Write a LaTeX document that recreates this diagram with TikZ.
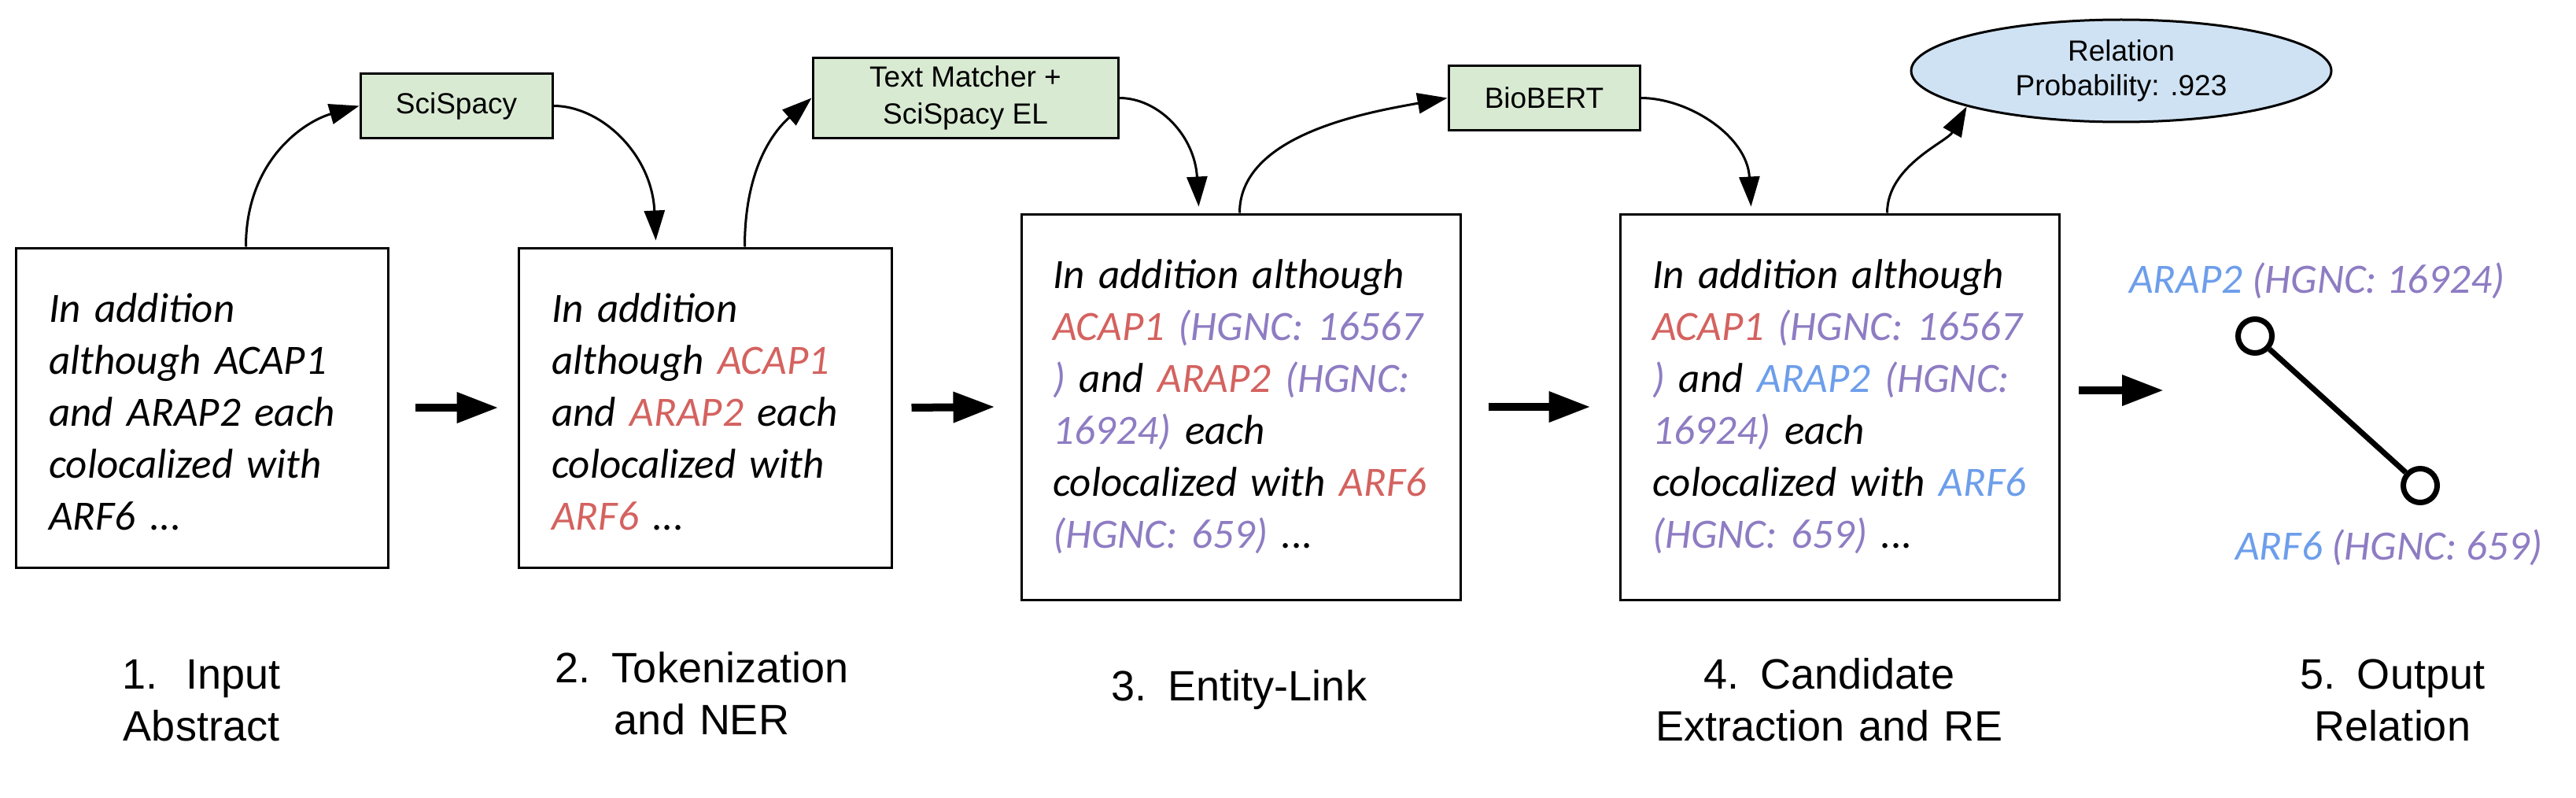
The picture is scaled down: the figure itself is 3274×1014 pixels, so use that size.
\documentclass[tikz,border=0pt]{standalone}
\usepackage{fontspec}
\setmainfont{Liberation Sans}
\newfontfamily\carlito{Carlito}
\usetikzlibrary{arrows.meta,shapes.geometric}
\definecolor{entred}{HTML}{D4625F}
\definecolor{entpurple}{HTML}{8E7CC3}
\definecolor{entblue}{HTML}{6D9EEB}
\definecolor{toolgreen}{HTML}{D9EAD3}
\definecolor{relblue}{HTML}{CFE2F3}
\newcommand\entR[1]{{\color{entred}#1}}
\newcommand\entP[1]{{\color{entpurple}#1}}
\newcommand\entB[1]{{\color{entblue}#1}}
\begin{document}
\begin{tikzpicture}[x=1pt,y=-1pt,
  textbox/.style={draw, line width=3pt, inner sep=0pt, fill=white},
  toolbox/.style={draw, line width=3pt, fill=toolgreen, inner sep=0pt, align=center, font=\fontsize{37}{47}\selectfont},
  relnode/.style={ellipse, draw, line width=3pt, fill=relblue, inner sep=0pt, minimum width=534pt, minimum height=130pt, align=center, font=\fontsize{37}{44}\selectfont},
  conn/.style={line width=3pt, -{Triangle[length=38pt,width=26pt]}},
  bigarrow/.style={line width=10pt, -{Triangle[length=53pt,width=37pt]}},
  boxtext/.style={anchor=base west, inner sep=0pt, text width=540pt, align=left, font=\carlito\itshape\fontsize{53}{66}\selectfont},
  stagelabel/.style={anchor=base, inner sep=0pt, text width=600pt, align=center, font=\fontsize{54}{66}\selectfont},
  entlabel/.style={anchor=base west, inner sep=0pt, font=\carlito\itshape\fontsize{53}{66}\selectfont},
  endpoint/.style={circle, draw, line width=7pt, fill=white, minimum size=43pt, inner sep=0pt}
]
\useasboundingbox (0,0) rectangle (3274,1014);

% main boxes
\node[textbox, minimum width=473pt, minimum height=406pt] (b1) at (256.5,518) {};
\node[textbox, minimum width=474pt, minimum height=406pt] (b2) at (896,518) {};
\node[textbox, minimum width=558pt, minimum height=490pt] (b3) at (1577,517) {};
\node[textbox, minimum width=558pt, minimum height=490pt] (b4) at (2338,517) {};

% box texts
\node[boxtext] (t1) at (62,409) {In addition\\although ACAP1\\and ARAP2 each\\colocalized with\\ARF6 ...};
\node[boxtext] (t2) at (701,409) {In addition\\although \entR{ACAP1}\\and \entR{ARAP2} each\\colocalized with\\\entR{ARF6} ...};
\node[boxtext] (t3) at (1338,366) {In addition although\\\entR{ACAP1} \entP{(HGNC: 16567}\\\entP{)} and \entR{ARAP2} \entP{(HGNC:}\\\entP{16924)} each\\colocalized with \entR{ARF6}\\\entP{(HGNC: 659)} ...};
\node[boxtext] (t4) at (2100,366) {In addition although\\\entR{ACAP1} \entP{(HGNC: 16567}\\\entP{)} and \entB{ARAP2} \entP{(HGNC:}\\\entP{16924)} each\\colocalized with \entB{ARF6}\\\entP{(HGNC: 659)} ...};

% tool boxes
\node[toolbox, minimum width=244pt, minimum height=81pt] (sci) at (580,134.5) {SciSpacy};
\node[toolbox, minimum width=388pt, minimum height=101pt] (tm) at (1227,124.5) {Text Matcher +\\SciSpacy EL};
\node[toolbox, minimum width=243pt, minimum height=81pt] (bio) at (1962.5,124.5) {BioBERT};
\node[relnode] (rel) at (2696,90) {Relation\\Probability: .923};

% curved connectors
\draw[conn] ([xshift=294pt]b1.north west) .. controls +(0,-110) and +(-70,20) .. (sci.west);
\draw[conn] (sci.east) .. controls +(60,0) and +(-5,-110) .. ([xshift=176pt,yshift=8pt]b2.north west);
\draw[conn] ([xshift=289pt]b2.north west) .. controls +(0,-110) and +(-40,35) .. (tm.west);
\draw[conn] (tm.east) .. controls +(50,0) and +(-5,-90) .. ([xshift=227pt,yshift=8pt]b3.north west);
\draw[conn] ([xshift=279pt]b3.north west) .. controls +(0,-100) and +(-100,18) .. (bio.west);
\draw[conn] (bio.east) .. controls +(60,0) and +(-5,-90) .. ([xshift=168pt,yshift=8pt]b4.north west);
\draw[conn] ([xshift=341pt]b4.north west) .. controls +(0,-60) and +(-25,45) .. (rel.193);

% horizontal arrows
\coordinate (relin) at (2750,496);
\draw[bigarrow] ([xshift=33pt]b1.east) -- ([xshift=-24pt]b2.west);
\draw[bigarrow] ([xshift=24pt]b2.east) -- ([xshift=-32pt]b3.west);
\draw[bigarrow] ([xshift=34pt]b3.east) -- ([xshift=-36pt]b4.west);
\draw[bigarrow] ([xshift=23pt,yshift=21pt]b4.east) -- (relin);

% output relation
\node[entlabel] (la) at (2706,372) {\entB{ARAP2} \entP{(HGNC: 16924)}};
\node[entlabel] (lb) at (2841,711) {\entB{ARF6} \entP{(HGNC: 659)}};
\node[endpoint] (e1) at (2866,427) {};
\node[endpoint] (e2) at (3076,617) {};
\draw[line width=7pt] (e1) -- (e2);

% stage labels
\node[stagelabel] (s1) at (256,875) {1.\ \ Input\\Abstract};
\node[stagelabel] (s2) at (892,867) {2. Tokenization\\and NER};
\node[stagelabel] (s3) at (1575,890) {3. Entity-Link};
\node[stagelabel] (s4) at (2325,875) {4. Candidate\\Extraction and RE};
\node[stagelabel] (s5) at (3041,875) {5. Output\\Relation};
\end{tikzpicture}
\end{document}
